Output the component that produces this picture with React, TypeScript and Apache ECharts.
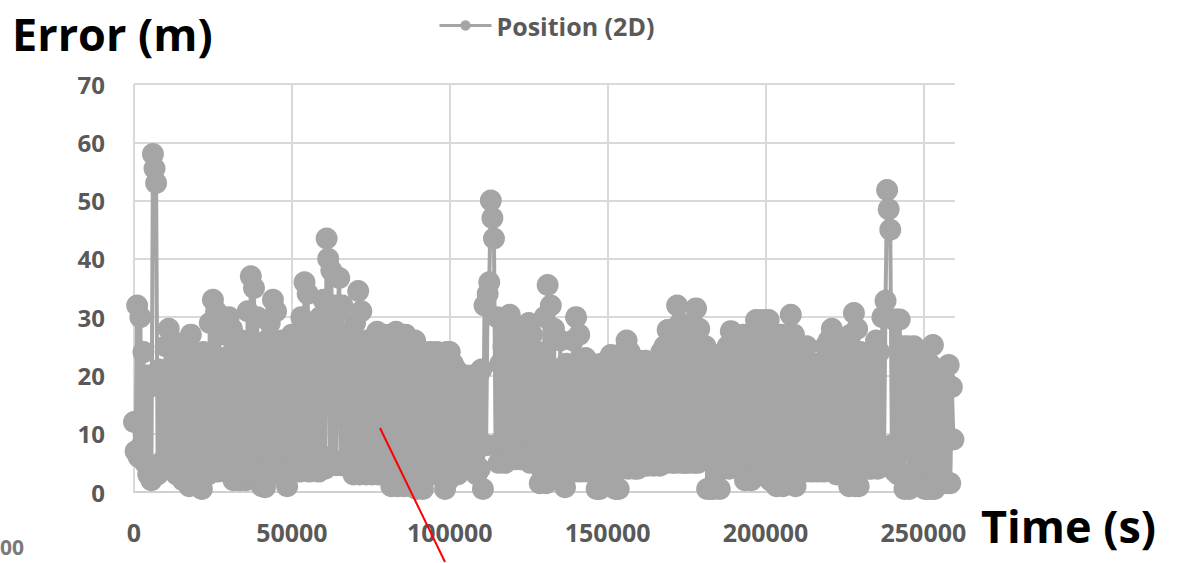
import React, { useEffect, useRef } from "react";
import * as echarts from "echarts";

// Sampling step of the time series (seconds)
const STEP = 500;

// Position (2D) error in metres (one value per STEP)
const errorValues: number[] = [
  12, 7, 32, 6, 30, 8, 24, 5, 20, 3,
  18, 2, 58, 55.5, 53, 3, 21, 5, 19, 4,
  25, 6, 28, 4, 26, 5, 21, 3, 24, 6,
  20, 2, 22, 4, 25, 1, 27, 5, 24, 2,
  21, 4, 22, 0.5, 24, 5, 20, 3, 29, 4,
  33, 6, 31, 3.5, 27, 5, 23, 4, 27, 3.5,
  30, 5, 28, 2, 25, 4, 23, 2, 26, 5,
  22, 2, 31, 3, 37, 4, 35, 2, 30, 3,
  24, 1, 22, 0.8, 26, 4, 29, 3, 33, 5,
  31, 3, 24, 4, 26, 3, 22, 1, 25, 4,
  27, 3.5, 24, 5, 23, 3.5, 30, 4, 36, 6,
  34, 3.5, 29, 5, 25, 4, 28, 3.5, 30, 5,
  33, 4, 43.5, 40, 6, 38, 5, 32, 4.6, 31,
  36.7, 4.6, 32, 5, 25, 4.6, 27, 6, 26, 3,
  29, 4, 34.5, 3, 31, 5, 25, 3, 26, 4,
  24, 3, 25, 5, 27.5, 3, 26, 4, 27, 3,
  25, 5, 27, 1, 26, 4, 27.5, 1, 24, 3,
  26, 1, 27, 4, 25, 1, 24, 3, 26, 0.5,
  23, 4, 22, 0.5, 24, 3, 23, 5, 24, 3,
  22, 4, 24, 3, 23, 5, 21, 0.5, 24, 2,
  24, 3, 22, 5, 21, 3, 20, 4, 19, 4.6,
  20, 5, 18, 4.6, 20, 6, 19, 3, 20, 4,
  21, 0.5, 32, 8, 34, 36, 50, 47, 43.5, 8,
  30, 5, 22, 6, 25, 5, 27, 5.6, 30.4, 6,
  28, 5.6, 23, 7, 24, 5.6, 22, 6, 26, 5.6,
  29, 5, 27, 6, 22, 5, 24, 1.5, 23, 3,
  30, 1.5, 35.5, 4, 32, 3, 28, 5, 21, 3,
  26, 4, 21, 0.8, 22, 3.5, 20, 5, 26, 3.5,
  30, 4, 27, 3.5, 22, 5, 23, 3.5, 21, 4,
  22, 3.5, 20, 0.5, 21, 0.5, 22, 3, 20, 4,
  22, 3, 23.5, 4, 21, 0.5, 22, 0.5, 20, 4,
  24, 5, 26, 4, 24, 5, 21, 4, 22, 4,
  22.5, 4.5, 21, 5, 22.5, 4.5, 20, 5, 22, 4.5,
  22.5, 5, 21, 4.5, 24, 5, 25, 5, 27.8, 6,
  26, 5, 28, 5, 32, 6, 29, 5, 26, 5,
  23, 5, 26, 6, 28, 5, 31.5, 5, 28, 6,
  23, 6, 25, 0.5, 22, 0.5, 21, 0.5, 22, 1,
  23.5, 0.5, 22, 4, 24, 5, 25, 4, 27.6, 6,
  25, 6, 23, 7, 25, 6, 27, 2, 26, 4,
  27, 2, 24, 3, 29.5, 5, 29, 4.6, 29.5, 5,
  28, 4.6, 29.5, 2, 25, 2, 23, 1, 25, 3,
  27, 1, 26, 3.5, 27, 4, 30.4, 3.5, 27, 1,
  22, 3.5, 24, 4, 21, 3.5, 25, 4, 22, 3.5,
  21, 4, 22, 3.5, 20, 5, 22, 3.5, 25, 4,
  26, 4, 28, 5, 25, 3, 24, 4, 22, 3,
  24, 3, 22, 1, 27, 3, 30.7, 1, 28, 1,
  24, 4, 22, 5, 23, 4, 24, 4, 22, 5,
  26, 4, 24, 5, 30, 5, 32.8, 51.8, 48.5, 45,
  8, 29.6, 3.5, 29.6, 3, 29.6, 3, 25, 0.5, 24,
  25, 0.5, 23, 3, 25, 3, 22, 3, 23, 3,
  22, 0.5, 21, 0.5, 22, 0.5, 25.2, 0.5, 21, 1.5,
  20, 1.5, 21, 1.5, 19, 1.5, 21.8, 1.5, 18, 9,
];

const seriesName = "Position (2D)";
const yTitle = "Error (m)";
const xTitle = "Time (s)";
const xMax = 260000;
const xInterval = 50000;
const yMax = 70;
const yInterval = 10;

const FONT = "'Open Sans', 'Noto Sans', sans-serif";
const GREY = "#A5A5A5";
const LABEL = "#595959";

export default function App() {
  const ref = useRef<HTMLDivElement>(null);

  useEffect(() => {
    if (!ref.current) return;
    const chart = echarts.init(ref.current, undefined, { renderer: "svg" });
    const data = errorValues.map((v, i) => [i * STEP, v]);
    chart.setOption({
      animation: false,
      backgroundColor: "#ffffff",
      textStyle: { fontFamily: FONT },
      grid: { left: 134, right: 223, top: 84, bottom: 71 },
      legend: {
        data: [seriesName],
        left: 433,
        top: 8,
        itemWidth: 52,
        itemHeight: 13,
        itemGap: 4,
        lineStyle: { width: 3 },
        textStyle: { fontFamily: FONT, fontSize: 25, fontWeight: "bold", color: LABEL },
      },
      xAxis: {
        type: "value",
        min: 0,
        max: xMax,
        interval: xInterval,
        axisLine: { show: true, lineStyle: { color: "#D0D0D0", width: 2 } },
        axisTick: { show: false },
        axisLabel: {
          showMaxLabel: false,
          margin: 27,
          fontSize: 25,
          fontWeight: "bold",
          color: LABEL,
          fontFamily: FONT,
          formatter: (v: number) => String(v),
        },
        splitLine: { show: true, showMaxLine: false, lineStyle: { color: "#D9D9D9", width: 2 } },
      },
      yAxis: {
        type: "value",
        min: 0,
        max: yMax,
        interval: yInterval,
        axisLine: { show: false },
        axisTick: { show: false },
        axisLabel: {
          margin: 29,
          fontSize: 24,
          fontWeight: "bold",
          color: LABEL,
          fontFamily: FONT,
        },
        splitLine: { show: true, lineStyle: { color: "#D9D9D9", width: 2 } },
      },
      series: [
        {
          name: seriesName,
          type: "line",
          data,
          symbol: "circle",
          symbolSize: 22,
          showSymbol: true,
          lineStyle: { color: GREY, width: 4 },
          itemStyle: { color: GREY, borderWidth: 0 },
          clip: false,
          z: 3,
        },
      ],
      graphic: [
        {
          type: "text",
          left: 12,
          top: 11,
          z: 10,
          style: {
            text: yTitle,
            font: `bold 45px ${FONT}`,
            fill: "#000000",
          },
        },
        {
          type: "text",
          left: 981,
          top: 503,
          z: 10,
          style: {
            text: xTitle,
            font: `bold 45px ${FONT}`,
            fill: "#000000",
          },
        },
        {
          type: "text",
          left: 0,
          top: 536,
          z: 10,
          style: {
            text: "00",
            font: `bold 21px ${FONT}`,
            fill: "#7a7a7a",
          },
        },
        {
          type: "line",
          z: 20,
          shape: { x1: 380, y1: 428, x2: 445, y2: 562 },
          style: { stroke: "#FF0000", lineWidth: 2 },
        },
      ],
    });
    return () => chart.dispose();
  }, []);

  return (
    <div
      ref={ref}
      style={{ position: "fixed", left: 0, top: 0, width: 1178, height: 563 }}
    />
  );
}
